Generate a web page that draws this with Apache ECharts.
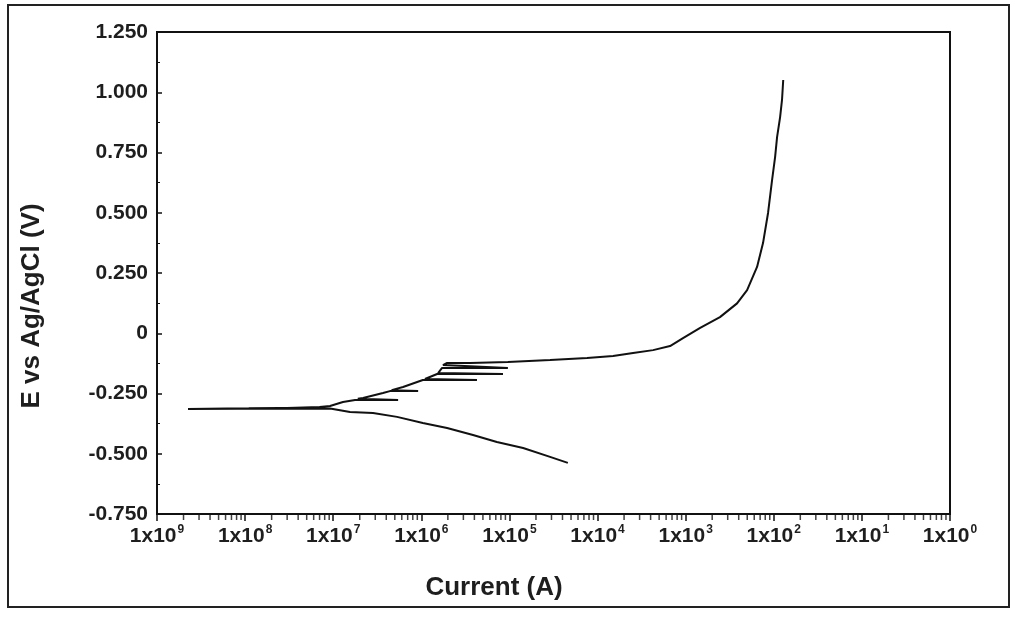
<!DOCTYPE html>
<html>
<head>
<meta charset="utf-8">
<script src="https://cdn.jsdelivr.net/npm/echarts@6/dist/echarts.min.js"></script>
<style>
  html, body { margin: 0; padding: 0; background: #fff; }
  #chart { width: 1011px; height: 618px; }
</style>
</head>
<body>
<div id="chart"></div>
<script>
// Potentiodynamic polarization scan: current (A) vs potential (V vs Ag/AgCl), in scan order.
// Cathodic branch, from the most negative potential towards the corrosion potential.
const cathodicCurrent = [4.6e-5, 2.89e-5, 1.43e-5, 7.2e-6, 3.86e-6, 1.96e-6, 1.04e-6, 5.3e-7, 2.83e-7, 1.55e-7, 9.2e-8];
const cathodicPotential = [-0.538, -0.513, -0.476, -0.451, -0.422, -0.393, -0.372, -0.347, -0.331, -0.327, -0.312];

// Noisy region around the corrosion potential (current minimum).
const corrosionCurrent = [4e-8, 8e-9, 2.25e-9, 6.2e-9, 2.5e-8, 1.1e-8, 5.5e-8, 3e-8, 7e-8];
const corrosionPotential = [-0.313, -0.313, -0.314, -0.312, -0.310, -0.311, -0.309, -0.310, -0.306];

// Anodic branch, including the short current excursions near -0.25 V.
const anodicCurrent = [9.2e-8, 1.29e-7, 1.77e-7, 5.45e-7, 1.9e-7, 2.18e-7, 3.67e-7, 4.4e-7, 9.2e-7, 4.6e-7,
  6.2e-7, 1.04e-6, 4.28e-6, 1.1e-6, 1.51e-6, 8.45e-6, 1.55e-6, 1.72e-6, 9.6e-6, 1.76e-6,
  1.96e-6, 3.57e-6, 9.6e-6, 2.89e-5, 7.6e-5, 1.5e-4, 2.53e-4, 4.27e-4, 6.65e-4, 9.33e-4,
  1.46e-3, 2.45e-3, 3.83e-3, 4.98e-3, 6.46e-3, 7.55e-3, 8.61e-3, 9.57e-3, 1.035e-2, 1.09e-2,
  1.18e-2, 1.24e-2, 1.28e-2];
const anodicPotential = [-0.302, -0.285, -0.277, -0.277, -0.272, -0.269, -0.248, -0.240, -0.240, -0.236,
  -0.223, -0.194, -0.194, -0.190, -0.169, -0.169, -0.165, -0.144, -0.144, -0.132,
  -0.123, -0.123, -0.119, -0.111, -0.103, -0.094, -0.082, -0.070, -0.053, -0.020,
  0.022, 0.067, 0.124, 0.179, 0.275, 0.374, 0.499, 0.636, 0.731, 0.814,
  0.897, 0.968, 1.051];

// Axis ranges and tick labels
const xMin = 1e-9, xMax = 1;
const xExponentLabels = ['9', '8', '7', '6', '5', '4', '3', '2', '1', '0'];
const yMin = -0.75, yMax = 1.25, yStep = 0.25;
const minorMultipliers = [2, 3, 4, 5, 6, 7, 8, 9];

const scan = [];
function append(xs, ys) { for (let i = 0; i < xs.length; i++) scan.push([xs[i], ys[i]]); }
append(cathodicCurrent, cathodicPotential);
append(corrosionCurrent, corrosionPotential);
append(anodicCurrent, anodicPotential);

// Log-axis minor tick marks at 2..9 within each decade
const minorTicks = [];
for (let e = -9; e < 0; e++) {
  for (const m of minorMultipliers) minorTicks.push([m * Math.pow(10, e), yMin]);
}

const textColor = '#1e1e1e';
const font = '"Liberation Sans", Arial, sans-serif';

const chart = echarts.init(document.getElementById('chart'), null, { renderer: 'canvas' });
chart.setOption({
  backgroundColor: '#ffffff',
  animation: false,
  grid: { left: 157, top: 32, right: 61, bottom: 104, show: true, borderColor: '#111', borderWidth: 2, backgroundColor: 'transparent' },
  xAxis: {
    type: 'log', logBase: 10, min: xMin, max: xMax, interval: 1,
    axisLine: { onZero: false, lineStyle: { color: '#111', width: 2 } },
    axisTick: { show: true, inside: false, length: 7, lineStyle: { color: '#111', width: 1.5 } },
    splitLine: { show: false },
    axisLabel: {
      margin: 10,
      formatter: function (v) {
        const e = Math.round(Math.log10(v));
        return '{b|1x10}{s|' + xExponentLabels[e + 9] + '}';
      },
      rich: {
        b: { fontFamily: font, fontWeight: 'bold', fontSize: 21, color: textColor, lineHeight: 24 },
        s: { fontFamily: font, fontWeight: 'bold', fontSize: 12, color: textColor, padding: [0, 0, 12, 1] }
      }
    }
  },
  yAxis: {
    type: 'value', min: yMin, max: yMax, interval: yStep,
    axisLine: { show: true, onZero: false, lineStyle: { color: '#111', width: 2 } },
    axisTick: { show: true, inside: true, length: 5, lineStyle: { color: '#111', width: 1.5 } },
    minorTick: { show: true, splitNumber: 2, length: 3, lineStyle: { color: '#111', width: 1 } },
    splitLine: { show: false },
    axisLabel: {
      margin: 9, fontFamily: font, fontWeight: 'bold', fontSize: 21, color: textColor,
      formatter: function (v) { return Math.abs(v) < 1e-9 ? '0' : v.toFixed(3); }
    }
  },
  graphic: [
    { type: 'rect', silent: true, shape: { x: 8, y: 5, width: 1001, height: 602 },
      style: { fill: 'none', stroke: '#222', lineWidth: 2 } },
    { type: 'text', silent: true, x: 32, y: 306, rotation: Math.PI / 2,
      style: { text: 'E vs Ag/AgCl (V)', fontFamily: font, fontWeight: 'bold', fontSize: 26,
        fill: textColor, align: 'center', verticalAlign: 'middle' } },
    { type: 'text', silent: true, x: 494, y: 588,
      style: { text: 'Current (A)', fontFamily: font, fontWeight: 'bold', fontSize: 26,
        fill: textColor, align: 'center', verticalAlign: 'middle' } }
  ],
  series: [
    {
      type: 'line', data: scan, showSymbol: false, symbol: 'none',
      lineStyle: { color: '#111', width: 2 }, z: 3, silent: true
    },
    {
      type: 'scatter', data: minorTicks, symbol: 'rect', symbolSize: [1.5, 5], symbolOffset: [0, 3.5],
      itemStyle: { color: '#111' }, clip: false, silent: true, z: 2
    }
  ]
});
</script>
</body>
</html>
